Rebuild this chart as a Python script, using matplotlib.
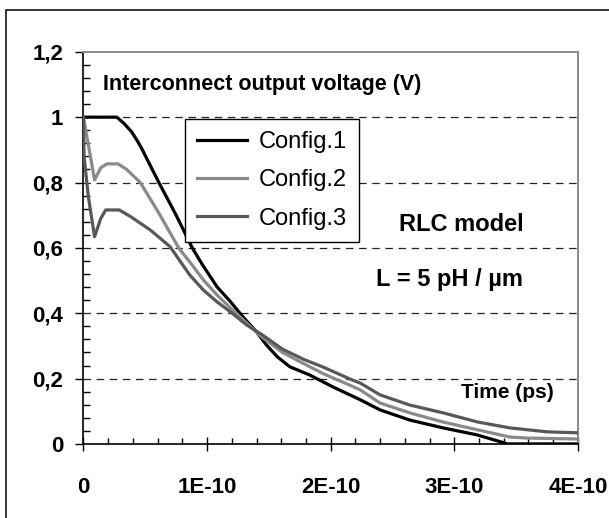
import matplotlib
matplotlib.use('Agg')
import matplotlib.pyplot as plt
from matplotlib.patches import Rectangle
from matplotlib.ticker import MultipleLocator

plt.rcParams['font.family'] = ['Liberation Sans', 'DejaVu Sans']

# time in units of 1E-10 s, voltage in V
t1 = [0, 0.27, 0.33, 0.39, 0.44, 0.47, 0.61, 0.75, 0.88, 0.96, 1.08, 1.19, 1.29,
      1.40, 1.48, 1.57, 1.67, 1.83, 2.02, 2.24, 2.40, 2.64, 2.91, 3.18, 3.37, 3.43, 4.0]
v1 = [1.0, 1.0, 0.98, 0.955, 0.925, 0.905, 0.80, 0.70, 0.60, 0.55, 0.481, 0.435, 0.389,
      0.343, 0.303, 0.266, 0.236, 0.211, 0.174, 0.135, 0.104, 0.073, 0.049, 0.028, 0.007, 0.0, 0.0]

t2 = [0, 0.09, 0.14, 0.19, 0.28, 0.35, 0.46, 0.62, 0.77, 0.86, 0.97, 1.08, 1.19, 1.32,
      1.45, 1.61, 1.78, 1.94, 2.16, 2.24, 2.40, 2.64, 2.91, 3.19, 3.45, 3.59, 4.0]
v2 = [1.0, 0.808, 0.845, 0.857, 0.857, 0.84, 0.80, 0.70, 0.60, 0.557, 0.502, 0.456, 0.416, 0.37,
      0.325, 0.28, 0.246, 0.215, 0.179, 0.165, 0.125, 0.095, 0.067, 0.043, 0.021, 0.018, 0.015]

t3 = [0, 0.005, 0.04, 0.09, 0.14, 0.18, 0.29, 0.38, 0.54, 0.70, 0.86, 0.97, 1.08, 1.19,
      1.32, 1.45, 1.61, 1.78, 1.94, 2.16, 2.24, 2.40, 2.64, 2.91, 3.19, 3.45, 3.75, 4.0]
v3 = [1.0, 0.88, 0.756, 0.634, 0.69, 0.716, 0.716, 0.696, 0.655, 0.604, 0.517, 0.471, 0.435, 0.404,
      0.364, 0.333, 0.29, 0.259, 0.235, 0.198, 0.186, 0.15, 0.119, 0.095, 0.067, 0.049, 0.037, 0.034]

labels = ['Config.1', 'Config.2', 'Config.3']
colors = ['#000000', '#8a8a8a', '#585858']

xticks = [0, 1, 2, 3, 4]
xticklabels = ['0', '1E-10', '2E-10', '3E-10', '4E-10']
yticks = [0, 0.2, 0.4, 0.6, 0.8, 1.0, 1.2]
yticklabels = ['0', '0,2', '0,4', '0,6', '0,8', '1', '1,2']
grid_levels = [0.2, 0.4, 0.6, 0.8, 1.0]

fig = plt.figure(figsize=(6.09, 5.18), dpi=100)
ax = fig.add_axes([0.137, 0.143, 0.812, 0.757])

# outer frame (cut off at right/bottom)
fig.patches.append(Rectangle((6 / 609, -0.2), 1.2, 0.2 + (518 - 10) / 518,
                             transform=fig.transFigure, fill=False,
                             edgecolor='black', linewidth=1.1))

for lev in grid_levels:
    ax.axhline(lev, color='#222222', lw=0.9, dashes=(6, 4.5), zorder=1)

for t, v, lab, c in zip([t1, t2, t3], [v1, v2, v3], labels, colors):
    ax.plot(t, v, color=c, lw=2.3, label=lab, zorder=3)

ax.set_xlim(0, 4)
ax.set_ylim(0, 1.2)
ax.set_xticks(xticks)
ax.set_xticklabels(xticklabels, fontsize=16, fontweight='bold')
ax.set_yticks(yticks)
ax.set_yticklabels(yticklabels, fontsize=16, fontweight='bold')
ax.xaxis.set_minor_locator(MultipleLocator(0.2))
ax.yaxis.set_minor_locator(MultipleLocator(0.04))
ax.tick_params(axis='x', which='major', direction='inout', length=10, width=1, pad=19)
ax.tick_params(axis='x', which='minor', direction='in', length=4.5, width=1)
ax.tick_params(axis='y', which='major', direction='out', length=5.5, width=1, pad=9)
ax.tick_params(axis='y', which='minor', direction='in', length=5, width=1)

for s in ['left', 'bottom']:
    ax.spines[s].set_color('black')
    ax.spines[s].set_linewidth(1.2)
for s in ['top', 'right']:
    ax.spines[s].set_color('#8a8a8a')
    ax.spines[s].set_linewidth(1.4)

ax.text(0.16, 1.10, 'Interconnect output voltage (V)', fontsize=15.5,
        fontweight='bold', ha='left', va='center')
ax.text(3.06, 0.673, 'RLC model', fontsize=17, fontweight='bold', ha='center', va='center')
ax.text(2.96, 0.502, 'L = 5 pH / µm', fontsize=17, fontweight='bold', ha='center', va='center')
ax.text(3.43, 0.156, 'Time (ps)', fontsize=15, fontweight='bold', ha='center', va='center')

leg = ax.legend(loc='upper left', bbox_to_anchor=(0.205, 0.829), borderaxespad=0,
                fontsize=17, handlelength=2.1, handletextpad=0.5, labelspacing=0.69,
                borderpad=0.52, fancybox=False, framealpha=1, edgecolor='black')
leg.get_frame().set_linewidth(1.0)
leg.set_zorder(5)

fig.savefig('out.png', dpi=100)
